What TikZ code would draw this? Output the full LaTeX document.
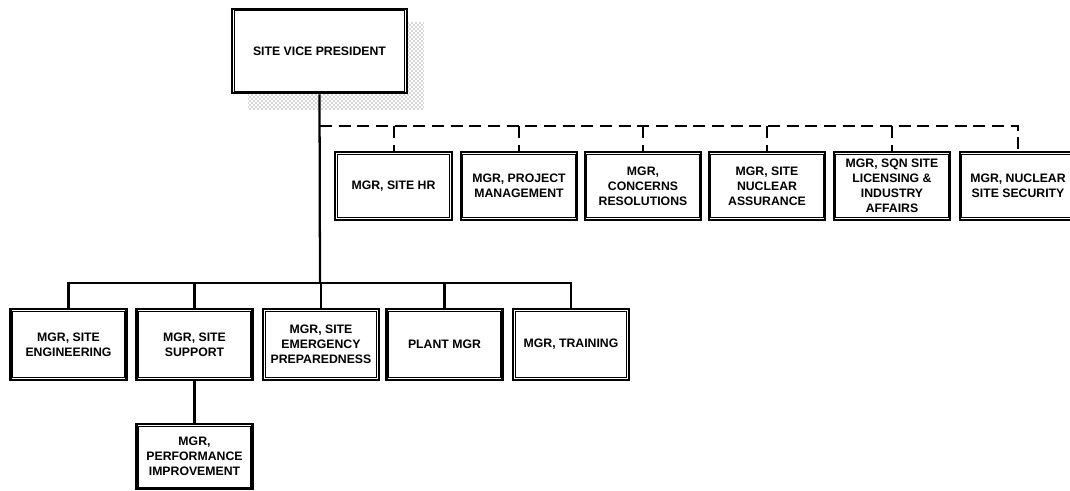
\documentclass[tikz,border=0pt]{standalone}
\usepackage{fontspec}
\setmainfont{Liberation Sans}
\usetikzlibrary{patterns}
\tikzset{
  orgbox/.style={draw, line width=1.6pt, inner sep=1pt, align=center,
    font=\fontsize{9.2}{11.3}\selectfont\bfseries},
  botbox/.style={orgbox, minimum width=87pt, minimum height=53pt},
  topbox/.style={orgbox, minimum width=87.5pt, minimum height=51pt},
  innerline/.style={line width=0.6pt},
  solidline/.style={line width=1.7pt},
  dashline/.style={line width=1.5pt, dash pattern=on 9pt off 5pt},
  shadow/.style={pattern=crosshatch dots, pattern color=black!70, draw=none}
}
\begin{document}
\begin{tikzpicture}[x=0.75pt,y=-0.75pt]
\useasboundingbox (0,0) rectangle (1070,491);
% shadow of the top box
\fill[shadow] (248,93) -- (407,93) -- (407,22) -- (424,22) -- (424,110) -- (248,110) -- cycle;
\node[orgbox, minimum width=131pt, minimum height=63.5pt, fill=white] (vp) at (319.5,51) {SITE VICE PRESIDENT};

% bottom row
\node[botbox] (eng) at (68.5,344.5) {MGR, SITE\\ENGINEERING};
\node[botbox] (sup) at (194.5,344.5) {MGR, SITE\\SUPPORT};
\node[botbox] (emg) at (321,344.5) {MGR, SITE\\EMERGENCY\\PREPAREDNESS};
\node[botbox] (plant) at (444.5,344.5) {PLANT MGR};
\node[botbox] (train) at (571,344.5) {MGR, TRAINING};
\node[botbox, minimum height=49pt] (perf) at (194.5,456.5) {MGR,\\PERFORMANCE\\IMPROVEMENT};

% top row
\node[topbox] (hr) at (393.5,186) {MGR, SITE HR};
\node[topbox] (pm) at (519,186) {MGR, PROJECT\\MANAGEMENT};
\node[topbox] (cr) at (643,186) {MGR,\\CONCERNS\\RESOLUTIONS};
\node[topbox] (na) at (767,186) {MGR, SITE\\NUCLEAR\\ASSURANCE};
\node[topbox] (sqn) at (892,186) {MGR, SQN SITE\\LICENSING \&\\INDUSTRY\\AFFAIRS};
\node[topbox] (sec) at (1018,186) {MGR, NUCLEAR\\SITE SECURITY};

% inner lines of the double borders
\foreach \n in {vp,eng,sup,emg,plant,train,perf,hr,pm,cr,na,sqn,sec}{
  \draw[innerline] ([shift={(2.4pt,2.4pt)}]\n.south west) rectangle ([shift={(-2.4pt,-2.4pt)}]\n.north east);
}

% solid connectors
\coordinate (bus) at (320,283);
\coordinate (dl) at (320,126);
\draw[solidline] (vp.south) -- (bus);
\draw[solidline] (eng.north) |- (bus) -| (train.north);
\draw[solidline] (sup.north) -- (sup.north |- bus);
\draw[solidline] (emg.north) -- (emg.north |- bus);
\draw[solidline] (plant.north) -- (plant.north |- bus);
\draw[solidline] (sup.south) -- (perf.north);

% dashed connectors
\draw[dashline] (dl) -| (sec.north);
\foreach \n in {hr,pm,cr,na,sqn}{
  \draw[dashline] (\n.north |- dl) -- (\n.north);
}
\end{tikzpicture}
\end{document}
